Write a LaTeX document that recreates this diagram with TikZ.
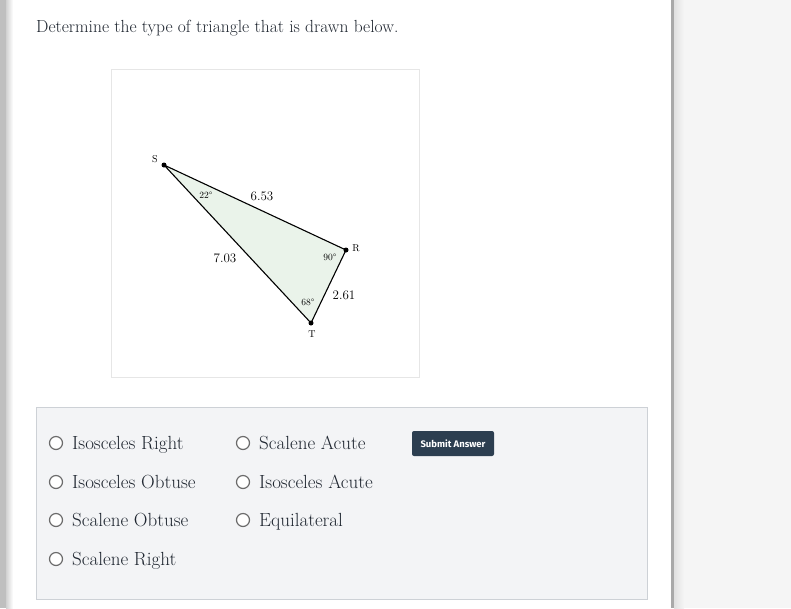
\documentclass[tikz,border=0pt]{standalone}
\usepackage{fontspec}
\newfontfamily\btnfont{Fira Sans}
\usetikzlibrary{positioning}
\definecolor{sidegray}{HTML}{F5F5F5}
\definecolor{edgegray}{HTML}{A9A9A9}
\definecolor{framegray}{HTML}{E6E6E6}
\definecolor{trifill}{HTML}{EAF3EA}
\definecolor{boxfill}{HTML}{F3F4F6}
\definecolor{boxline}{HTML}{CDD1D6}
\definecolor{radiogray}{HTML}{6B6B6B}
\definecolor{choicetext}{HTML}{1F2630}
\definecolor{btnfill}{HTML}{2C3E50}

\begin{document}
\begin{tikzpicture}[x=1pt, y=-1pt,
     node distance = 4pt and 4pt,
       vertex/.style = {circle, fill=black, inner sep=0pt, minimum size=5pt},
      ptlabel/.style = {font=\fontsize{10}{10}\selectfont, inner sep=0pt},
     sidelbl/.style = {font=\fontsize{13}{13}\selectfont, inner sep=0pt},
    anglelbl/.style = {font=\fontsize{9.5}{9.5}\selectfont, inner sep=0pt},
       radio/.style = {circle, draw=radiogray, fill=white, line width=1.2pt,
                       minimum size=13pt, inner sep=0pt},
      choice/.style = {font=\fontsize{19}{19}\selectfont, text=choicetext,
                       anchor=base west, inner sep=0pt}
                        ]
\useasboundingbox (0,0) rectangle (791,608);
% page background
\fill[sidegray] (0,0) rectangle (791,608);
\fill[white] (8,0) rectangle (671,608);
\fill[black!25] (0,0) rectangle (6,608);
\shade[left color=black!18, right color=white] (6,0) rectangle (13,608);
\fill[edgegray] (671,0) rectangle (674,608);
\shade[left color=black!12, right color=sidegray] (674,0) rectangle (684,608);

% question
\node (question) [anchor=base west, inner sep=0pt, text=choicetext,
                  font=\fontsize{17.5}{17.5}\selectfont] at (36,32)
      {Determine the type of triangle that is drawn below.};

% figure
\draw[framegray] (111,69) rectangle (419,377);
\coordinate (S) at (164,165);
\coordinate (R) at (346,250);
\coordinate (T) at (311,323);
\filldraw[fill=trifill, draw=black, line width=1.1pt, line join=round]
      (S) -- (R) -- (T) -- cycle;
\node (dS) [vertex] at (S) {};
\node (dR) [vertex] at (R) {};
\node (dT) [vertex] at (T) {};
\node (lS) [ptlabel] at (155,159) {S};
\node (lR) [ptlabel] at (356,248) {R};
\node (lT) [ptlabel] at (312,334) {T};
\node (sSR) [sidelbl] at (262,196) {6.53};
\node (sST) [sidelbl] at (225,258) {7.03};
\node (sRT) [sidelbl] at (344,295) {2.61};
\node (aS) [anglelbl] at (206,195) {22°};
\node (aR) [anglelbl] at (330,257) {90°};
\node (aT) [anglelbl] at (308,302) {68°};

% answers
\filldraw[fill=boxfill, draw=boxline] (36,407) rectangle (647,599);
\node (r1) [radio] at (56,443) {};
\node (r2) [radio] at (56,482) {};
\node (r3) [radio] at (56,520) {};
\node (r4) [radio] at (56,559) {};
\node (r5) [radio] at (243,443) {};
\node (r6) [radio] at (243,482) {};
\node (r7) [radio] at (243,520) {};
\node (c1) [choice] at (72,449) {Isosceles Right};
\node (c2) [choice] at (72,488) {Isosceles Obtuse};
\node (c3) [choice] at (72,526) {Scalene Obtuse};
\node (c4) [choice] at (72,565) {Scalene Right};
\node (c5) [choice] at (259,449) {Scalene Acute};
\node (c6) [choice] at (259,488) {Isosceles Acute};
\node (c7) [choice] at (259,526) {Equilateral};
\node (submit) [fill=btnfill, rounded corners=2pt, text=white,
                minimum width=82pt, minimum height=25pt, inner sep=0pt,
                font=\btnfont\bfseries\fontsize{9.5}{9.5}\selectfont] at (453,443.5)
      {Submit Answer};
\end{tikzpicture}
\end{document}
